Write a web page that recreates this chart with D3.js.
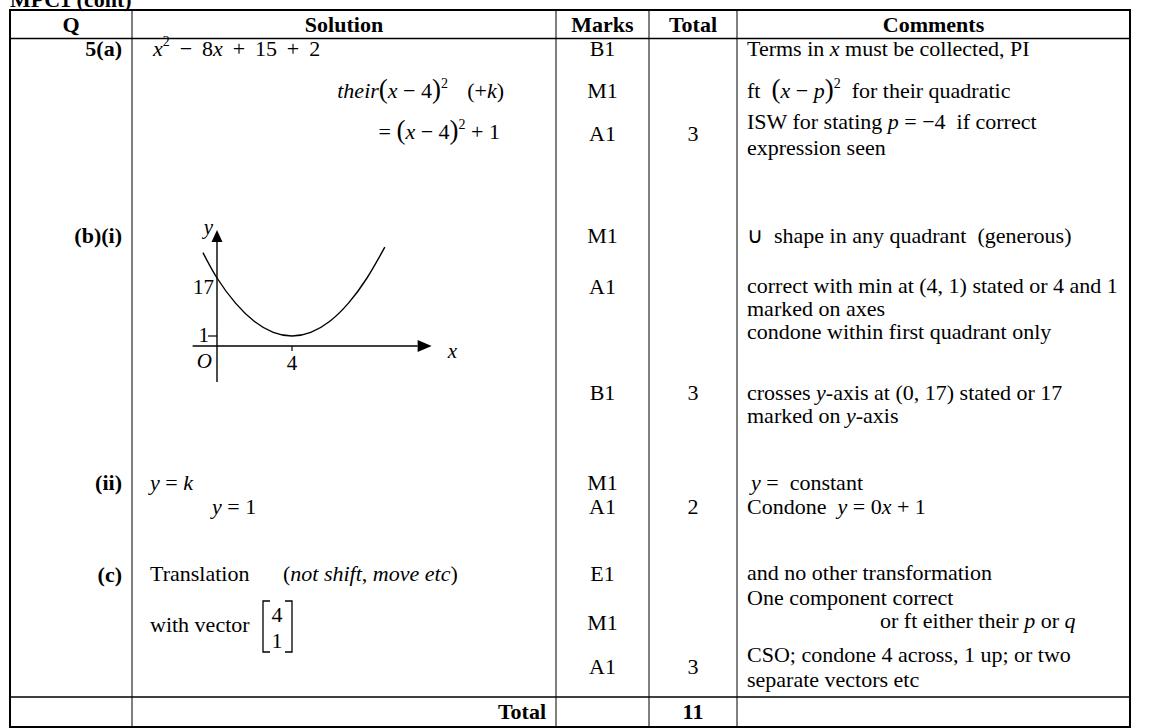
<!DOCTYPE html>
<html>
<head>
<meta charset="utf-8">
<script src="https://cdn.jsdelivr.net/npm/d3@7"></script>
<style>
  body { margin: 0; background: #fff; }
  svg text { font-family: "Liberation Serif", "Times New Roman", serif; font-size: 22px; fill: #000; white-space: pre; }
</style>
</head>
<body>
<svg width="1163" height="728"></svg>
<script>
// table content
const headers = ['Q', 'Solution', 'Marks', 'Total', 'Comments'];
const qLabels = ['5(a)', '(b)(i)', '(ii)', '(c)'];
const marks = ['B1', 'M1', 'A1', 'M1', 'A1', 'B1', 'M1', 'A1', 'E1', 'M1', 'A1'];
const totals = ['3', '3', '2', '3'];
const grandTotal = '11';
const solutions = [
  '*x*^2^ \u2009−\u2009 8*x* \u2009+\u2009 15 \u2009+\u2009 2',
  '*their*~(~*x* − 4~)~^2^',
  '(+*k*)',
  '= ~(~*x* − 4~)~^2^ + 1',
  '*y* = *k*',
  '*y* = 1',
  'Translation',
  '(*not shift, move etc*)',
  'with vector'
];
const vector = [4, 1];
const comments = [
  'Terms in *x* must be collected, PI',
  'ft  ~(~*x* − *p*~)~^2^  for their quadratic',
  'ISW for stating *p* = −4  if correct',
  'expression seen',
  '∪  shape in any quadrant  (generous)',
  'correct with min at (4, 1) stated or 4 and 1',
  'marked on axes',
  'condone within first quadrant only',
  'crosses *y*-axis at (0, 17) stated or 17',
  'marked on *y*-axis',
  '*y* =  constant',
  'Condone  *y* = 0*x* + 1',
  'and no other transformation',
  'One component correct',
  'or ft either their *p* or *q*',
  'CSO; condone 4 across, 1 up; or two',
  'separate vectors etc'
];

// sketch of y = (x-4)^2 + 1
const curveX = [-0.75, 0, 1, 2, 3, 4, 5, 6, 7, 8, 8.95];
const curveY = [24, 17, 10, 5, 2, 1, 2, 5, 10, 17, 25.5];
const xTicks = [4];
const yTicks = [1, 17];

// layout
const colX = [10, 132, 556, 649, 737, 1130];
const qY = [56, 243, 490, 582];
const marksY = [56, 98, 141, 243, 294, 400, 490, 514, 581, 630, 674];
const totalsY = [141, 400, 514, 674];
const solPos = [[153, 56, 'start'], [448, 98, 'end'], [504, 98, 'end'], [500, 139, 'end'],
  [150, 490, 'start'], [212, 514, 'start'], [150, 581, 'start'], [283, 581, 'start'], [150, 632, 'start']];
const comPos = [[747, 56], [747, 98], [747, 129], [747, 155], [747, 243], [747, 293], [747, 316],
  [747, 339], [747, 400], [747, 423], [751, 490], [747, 514], [747, 580], [747, 605], [880, 628],
  [747, 662], [747, 687]];

const svg = d3.select('svg');

function rich(str, x, y, anchor, bold) {
  const t = svg.append('text').attr('x', x).attr('y', y)
    .attr('text-anchor', anchor || 'start')
    .attr('font-weight', bold ? 'bold' : null);
  let shift = 0;
  str.split(/(\*[^*]*\*|\^[^^]*\^|~[^~]*~)/).filter(s => s).forEach(p => {
    const ts = t.append('tspan');
    let txt = p;
    let dy = -shift;
    shift = 0;
    if (p[0] === '*') { txt = p.slice(1, -1); ts.attr('font-style', 'italic'); }
    else if (p[0] === '^') { txt = p.slice(1, -1); ts.attr('font-size', '14px'); dy -= 10; shift = -10; }
    else if (p[0] === '~') { txt = p.slice(1, -1); ts.attr('font-size', '27px'); }
    if (dy) ts.attr('dy', dy);
    ts.text(txt);
  });
  return t;
}

// title (cut at top edge)
svg.append('text').attr('x', 10).attr('y', 7).attr('font-weight', 'bold').text('MPC1 (cont)');

// grid
const line = (x1, y1, x2, y2, w) => svg.append('line')
  .attr('x1', x1).attr('y1', y1).attr('x2', x2).attr('y2', y2)
  .attr('stroke', '#000').attr('stroke-width', w);
line(colX[0] - 1, 10, colX[5] + 1, 10, 2);
line(colX[0], 38.5, colX[5], 38.5, 1.5);
line(colX[0], 697, colX[5], 697, 1.5);
line(colX[0] - 1, 727, colX[5] + 1, 727, 2);
colX.forEach((x, i) => line(x, 10, x, 728, i === 0 || i === 5 ? 2 : 1));

// headers
headers.forEach((h, i) => {
  svg.append('text').attr('x', (colX[i] + colX[i + 1]) / 2).attr('y', 32)
    .attr('text-anchor', 'middle').attr('font-weight', 'bold').text(h);
});

qLabels.forEach((q, i) => rich(q, 122, qY[i], 'end', true));
marks.forEach((m, i) => rich(m, (colX[2] + colX[3]) / 2, marksY[i], 'middle'));
totals.forEach((t, i) => rich(t, (colX[3] + colX[4]) / 2, totalsY[i], 'middle'));
solutions.forEach((s, i) => rich(s, solPos[i][0], solPos[i][1], solPos[i][2]));
comments.forEach((c, i) => rich(c, comPos[i][0], comPos[i][1]));
rich('Total', 546, 719, 'end', true);
rich(grandTotal, (colX[3] + colX[4]) / 2, 719, 'middle', true);

// column vector with square brackets
const vy = d3.scaleBand().domain(vector.map(String)).range([601, 652]);
vector.forEach(v => rich(String(v), 277, vy(String(v)) + 21, 'middle'));
const bracket = (x, dir) => svg.append('path')
  .attr('d', `M${x + 7 * dir},601 H${x} V652 H${x + 7 * dir}`)
  .attr('fill', 'none').attr('stroke', '#000').attr('stroke-width', 1.3);
bracket(263, 1);
bracket(292, -1);

// graph
const x = d3.scaleLinear().domain([0, 4]).range([217, 292]);
const y = d3.scaleLinear().domain([0, 1, 17]).range([346, 336, 278]);
const g = svg.append('g');

g.append('line').attr('x1', x(-1.3)).attr('x2', x(10.7)).attr('y1', y(0)).attr('y2', y(0))
  .attr('stroke', '#000').attr('stroke-width', 1.4);
g.append('path').attr('d', `M${x(10.7)},${y(0) - 6} L${x(10.7) + 14},${y(0)} L${x(10.7)},${y(0) + 6}Z`);
g.append('line').attr('x1', x(0)).attr('x2', x(0)).attr('y1', y(0) + 36).attr('y2', y(17) - 36)
  .attr('stroke', '#000').attr('stroke-width', 1.4);
g.append('path').attr('d', `M${x(0) - 5.5},${y(17) - 36} L${x(0)},${y(17) - 48} L${x(0) + 5.5},${y(17) - 36}Z`);

xTicks.forEach(t => {
  g.append('line').attr('x1', x(t)).attr('x2', x(t)).attr('y1', y(0)).attr('y2', y(0) + 5)
    .attr('stroke', '#000').attr('stroke-width', 1.2);
  g.append('text').attr('x', x(t)).attr('y', y(0) + 24).attr('text-anchor', 'middle')
    .style('font-size', '21px').text(t);
});
yTicks.forEach(t => {
  if (t === 1) g.append('line').attr('x1', x(0) - 9).attr('x2', x(0)).attr('y1', y(t)).attr('y2', y(t))
    .attr('stroke', '#000').attr('stroke-width', 1.2);
  g.append('text').attr('x', x(0) - (t === 1 ? 8 : 3)).attr('y', y(t) + (t === 1 ? 6 : 16))
    .attr('text-anchor', 'end').style('font-size', '21px').text(t);
});
g.append('text').attr('x', x(0) - 5).attr('y', y(0) + 22).attr('text-anchor', 'end')
  .attr('font-style', 'italic').style('font-size', '21px').text('O');
g.append('text').attr('x', x(10.7) + 30).attr('y', y(0) + 12).attr('font-style', 'italic')
  .style('font-size', '21px').text('x');
g.append('text').attr('x', x(0) - 4).attr('y', y(17) - 44).attr('text-anchor', 'end')
  .attr('font-style', 'italic').style('font-size', '21px').text('y');

g.append('path')
  .datum(curveX.map((v, i) => [v, curveY[i]]))
  .attr('fill', 'none').attr('stroke', '#000').attr('stroke-width', 1.4)
  .attr('d', d3.line().x(d => x(d[0])).y(d => y(d[1])).curve(d3.curveNatural));
</script>
</body>
</html>
